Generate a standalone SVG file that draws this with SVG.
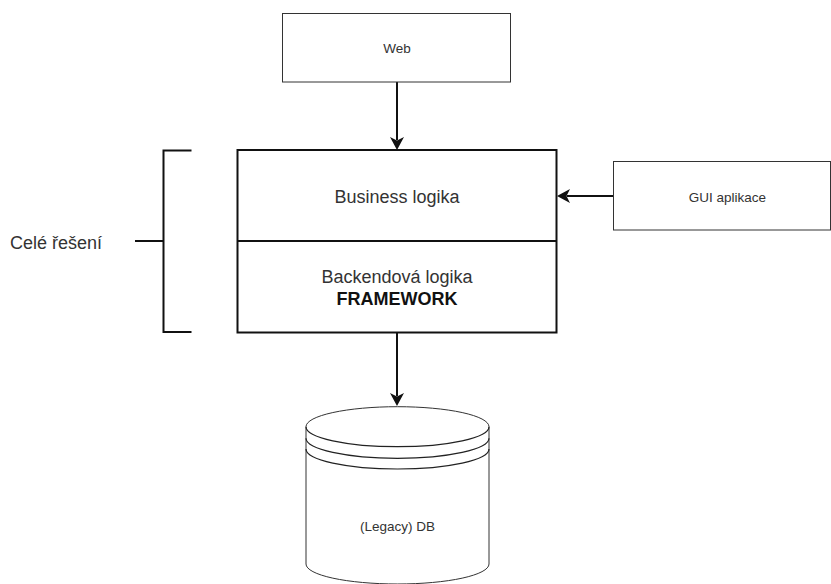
<svg xmlns="http://www.w3.org/2000/svg" width="831" height="584" viewBox="0 0 831 584">
  <defs>
    <style>
      .box { fill: #ffffff; stroke: #333333; stroke-width: 1; }
      .main { fill: #ffffff; stroke: #111111; stroke-width: 2; }
      .edge { fill: none; stroke: #111111; stroke-width: 2; }
      .thin { fill: none; stroke: #222222; stroke-width: 1.2; }
      .t { font-family: "Liberation Sans", Arial, sans-serif; fill: #333333; text-anchor: middle; }
      .sm { font-size: 13.5px; }
      .lg { font-size: 18px; }
      .b { font-weight: bold; fill: #111111; }
    </style>
    <marker id="arrow" markerUnits="userSpaceOnUse" markerWidth="14" markerHeight="14" refX="3" refY="7" orient="auto">
      <path d="M0,0 L13,7 L0,14 L3.5,7 Z" fill="#111111"/>
    </marker>
  </defs>

  <!-- connectors -->
  <g id="connectors">
    <line class="edge" x1="397" y1="82" x2="397" y2="140" marker-end="url(#arrow)"/>
    <line class="edge" x1="613" y1="196" x2="567" y2="196" marker-end="url(#arrow)"/>
    <line class="edge" x1="397" y1="333" x2="397" y2="396" marker-end="url(#arrow)"/>
  </g>

  <g id="web">
    <rect class="box" x="282.5" y="13.5" width="228" height="68.5"/>
    <text class="t sm" x="397" y="53">Web</text>
  </g>

  <g id="core">
    <rect class="main" x="237.5" y="150" width="319" height="182.5"/>
    <line class="edge" x1="237.5" y1="241" x2="556.5" y2="241"/>
    <text class="t lg" x="397" y="202.7">Business logika</text>
    <text class="t lg" x="397" y="283.3">Backendová logika</text>
    <text class="t lg b" x="397" y="305">FRAMEWORK</text>
  </g>

  <g id="gui">
    <rect class="box" x="613.5" y="161.5" width="217" height="68.5"/>
    <text class="t sm" x="727.5" y="201.5">GUI aplikace</text>
  </g>

  <g id="scope">
    <path class="edge" d="M191.5,150.5 H163.5 V332 H191.5"/>
    <line class="edge" x1="135" y1="241" x2="163.5" y2="241"/>
    <text class="t lg" x="10" y="249.3" style="text-anchor:start">Celé řešení</text>
  </g>

  <g id="db">
    <path class="box" d="M306,426.7 A91.5,20 0 0 1 489,426.7 V564 A91.5,20 0 0 1 306,564 Z"/>
    <path class="thin" d="M306,426.7 A91.5,20 0 0 0 489,426.7"/>
    <path class="thin" d="M306,438.3 A91.5,20 0 0 0 489,438.3"/>
    <path class="thin" d="M306,449 A91.5,20 0 0 0 489,449"/>
    <text class="t sm" x="397.5" y="531">(Legacy) DB</text>
  </g>
</svg>
